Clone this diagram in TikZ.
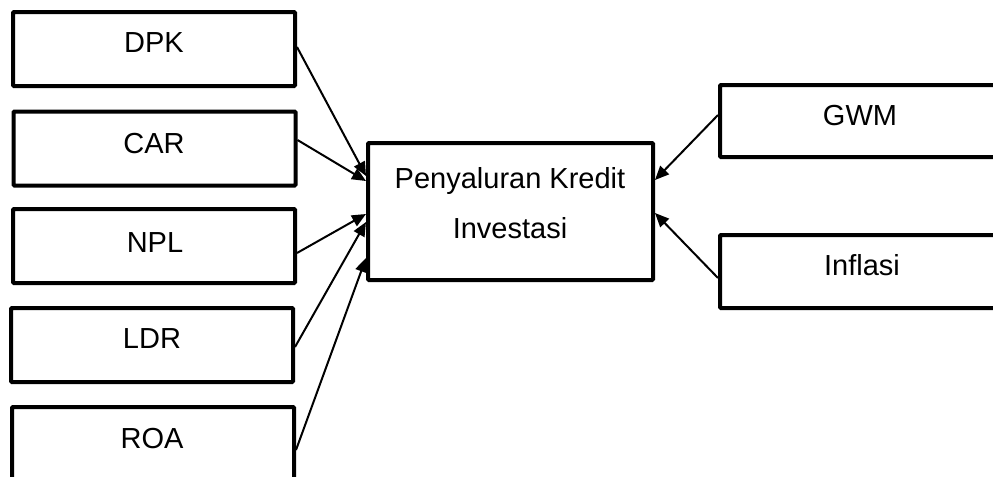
\documentclass[tikz,border=0pt]{standalone}
\usepackage{fontspec}
\setmainfont{Liberation Sans}
\usetikzlibrary{arrows.meta}
\begin{document}
\begin{tikzpicture}[x=0.5pt,y=-0.5pt,
  box/.style={draw, line width=2pt, rounded corners=0.5pt, inner sep=0pt, minimum width=141pt, minimum height=37pt},
  lbl/.style={font=\fontsize{14.5}{25}\selectfont, inner sep=0pt, anchor=base},
  conn/.style={line width=1pt, -{Triangle[length=7pt,width=6pt]}}]
\useasboundingbox (0,0) rectangle (993,477);
% left boxes
\node[box] (dpk) at (154,49) {};
\node[box] (car) at (154.5,148.5) {};
\node[box] (npl) at (154,246) {};
\node[box] (ldr) at (152,345) {};
\node[box] (roa) at (153,444) {};
% centre box
\node[box, minimum width=142.5pt, minimum height=68.5pt] (c) at (510.5,211.5) {};
% right boxes
\node[box, minimum height=36pt] (gwm) at (861,121) {};
\node[box, minimum height=36.5pt] (inf) at (861,271.5) {};
% labels
\node[lbl] (tdpk) at (154,52) {DPK};
\node[lbl] (tcar) at (154,153) {CAR};
\node[lbl] (tnpl) at (155,252) {NPL};
\node[lbl] (tldr) at (152,348) {LDR};
\node[lbl] (troa) at (152,448) {ROA};
\node[lbl] (tc1) at (510,188) {Penyaluran Kredit};
\node[lbl] (tc2) at (510,238) {Investasi};
\node[lbl] (tgwm) at (860,125) {GWM};
\node[lbl] (tinf) at (862,275) {Inflasi};
% connectors
\draw[conn] (dpk.east |- 0,47) -- (c.west |- 0,176);
\draw[conn] (car.east |- 0,140) -- (c.west |- 0,181);
\draw[conn] (npl.east |- 0,253) -- (c.west |- 0,214);
\draw[conn] (ldr.east |- 0,347) -- (c.west |- 0,222);
\draw[conn] (roa.east |- 0,450) -- (c.west |- 0,258);
\draw[conn] (gwm.west |- 0,115) -- (c.east |- 0,180);
\draw[conn] (inf.west |- 0,278) -- (c.east |- 0,213);
\end{tikzpicture}
\end{document}
